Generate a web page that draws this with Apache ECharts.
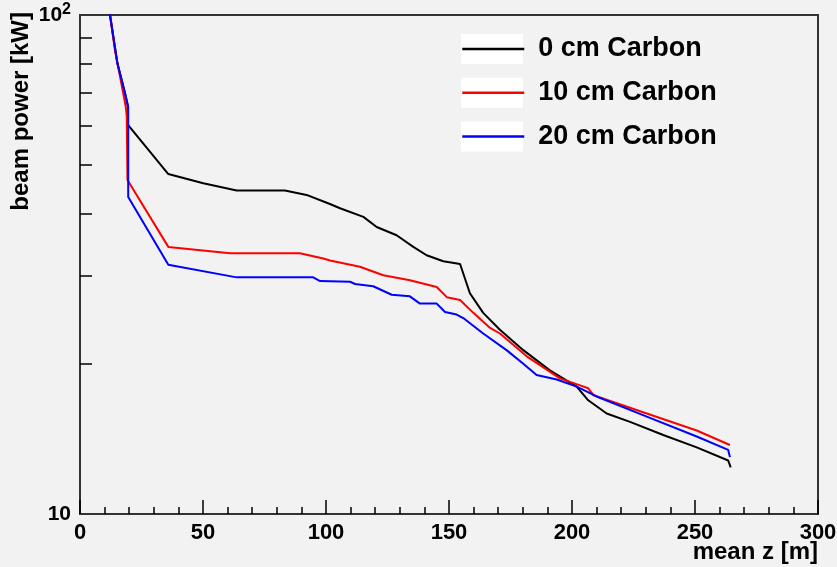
<!DOCTYPE html>
<html><head><meta charset="utf-8">
<script src="https://cdn.jsdelivr.net/npm/echarts@6/dist/echarts.min.js"></script>
<style>html,body{margin:0;padding:0;background:#f2f2f2}#c{width:837px;height:567px}</style>
</head><body><div id="c"></div>
<script>
const seriesNames = ['0 cm Carbon', '10 cm Carbon', '20 cm Carbon'];
const seriesColors = ['#000000', '#ff0000', '#0000ff'];
const xTitle = 'mean z [m]';
const yTitle = 'beam power [kW]';

// [mean z (m), beam power (kW)]
const black0 = [[11,109],[12.2,100],[15.2,80],[18.3,69.7],[19.5,65.5],[19.5,60.2],[35.9,48.0],[50.1,46.0],[63.7,44.5],[83.3,44.5],[92.1,43.6],[101.6,41.8],[105.7,41.0],[115.2,39.4],[120.6,37.6],[128.7,36.2],[135.5,34.3],[140.9,33.0],[147.7,32.1],[154.5,31.7],[158.5,27.7],[163.9,25.3],[170.7,23.4],[180.2,21.3],[191,19.4],[201.9,18.0],[206.6,16.9],[214.1,15.9],[223.6,15.3],[237.1,14.4],[250.7,13.6],[263.5,12.8],[264.5,12.4]];
const red10 = [[11,109],[12.2,100],[14.2,85],[16.3,75.2],[18.6,65.5],[19.0,62.8],[19.3,46.7],[35.9,34.3],[61,33.3],[89.4,33.3],[98.9,32.5],[101.6,32.2],[113.8,31.3],[123.3,30.1],[134.1,29.4],[145,28.5],[149.1,27.2],[154.5,26.85],[159.9,25.3],[166.7,23.6],[170.7,23.0],[181.6,20.7],[195.1,18.7],[203.3,18.1],[206.6,17.86],[208.7,17.3],[230.4,15.9],[250.7,14.7],[264.2,13.75]];
const blue20 = [[11,109],[12.2,100],[15.2,80],[18.3,69.7],[19.6,65.4],[19.6,43.2],[35.9,31.6],[63.7,29.8],[94.8,29.8],[97.6,29.3],[109.8,29.2],[111.8,28.9],[119.2,28.6],[126.7,27.5],[134.1,27.3],[138.2,26.4],[145,26.4],[148.4,25.4],[153.1,25.1],[155.8,24.7],[163.9,23.0],[173.4,21.3],[180.2,20.0],[185.6,19.0],[193.8,18.6],[201.9,18.0],[210,17.2],[230.4,15.67],[250.7,14.3],[263.5,13.44],[264.2,13.0]];

const xMin = 0, xMax = 300, xInterval = 50;
const yMin = 10, yMax = 100;
const yLabelValues = [10, 100];
const yTickValues = [20, 30, 40, 50, 60, 70, 80, 90];

const FONT = '"Liberation Sans", Arial, Helvetica, sans-serif';
const chart = echarts.init(document.getElementById('c'), null, {renderer: 'canvas'});

const legendLeft = 461, legendTop = 34, legendItemH = 30, legendGap = 13.7, legendIconW = 62;
const titleStyle = {fontSize: 24, fontWeight: 'bold', fill: '#000', fontFamily: FONT};

chart.setOption({
  backgroundColor: '#f2f2f2',
  animation: false,
  grid: {left: 80, right: 19, top: 15, bottom: 53, containLabel: false, outerBoundsMode: 'none',
         show: true, backgroundColor: '#f2f2f2', borderColor: '#333', borderWidth: 2},
  graphic: seriesNames.map((n, i) => ({
    type: 'rect', z: 1,
    shape: {x: legendLeft, y: legendTop + i * (legendItemH + legendGap), width: legendIconW, height: legendItemH},
    style: {fill: '#ffffff'}
  })).concat([
    {type: 'text', z: 5, x: 818, y: 552, style: Object.assign({text: xTitle, align: 'right', verticalAlign: 'middle'}, titleStyle)},
    {type: 'text', z: 5, x: 21, y: 12, rotation: Math.PI / 2, style: Object.assign({text: yTitle, align: 'right', verticalAlign: 'middle'}, titleStyle)}
  ]),
  legend: {
    orient: 'vertical', left: legendLeft, top: legendTop, padding: 0,
    itemWidth: legendIconW, itemHeight: legendItemH, itemGap: legendGap,
    data: seriesNames,
    itemStyle: {opacity: 0},
    lineStyle: {width: 2.5},
    textStyle: {fontSize: 27, fontWeight: 'bold', color: '#000', fontFamily: FONT, lineHeight: 30, padding: [0, 0, 0, 9]}
  },
  xAxis: {
    type: 'value', min: xMin, max: xMax, interval: xInterval,
    axisLine: {show: true, lineStyle: {color: '#333', width: 2}},
    axisTick: {show: true, inside: true, length: 14, lineStyle: {color: '#000', width: 1.5}},
    minorTick: {show: true, splitNumber: 5, length: 7, lineStyle: {color: '#000', width: 1.5}},
    axisLabel: {fontSize: 22, fontWeight: 'bold', color: '#000', fontFamily: FONT, margin: 8},
    splitLine: {show: false}
  },
  yAxis: {
    type: 'log', logBase: 10, min: yMin, max: yMax,
    axisLine: {show: true, lineStyle: {color: '#333', width: 2}},
    axisTick: {show: true, inside: true, length: 12, customValues: yTickValues, lineStyle: {color: '#000', width: 1.5}},
    axisLabel: {
      customValues: yLabelValues, margin: 9, fontFamily: FONT,
      formatter: v => (Math.round(v) === 100 ? '{b|10}{s|2}' : '{b|10}'),
      rich: {
        b: {fontSize: 21, fontWeight: 'bold', color: '#000', fontFamily: FONT, lineHeight: 24},
        s: {fontSize: 16, fontWeight: 'bold', color: '#000', fontFamily: FONT, verticalAlign: 'top', lineHeight: 26}
      }
    },
    splitLine: {show: false}
  },
  series: [black0, red10, blue20].map((d, i) => ({
    name: seriesNames[i], type: 'line', data: d, symbol: 'none', clip: true,
    lineStyle: {color: seriesColors[i], width: 2}, itemStyle: {color: seriesColors[i]}
  }))
});
</script>
</body></html>
